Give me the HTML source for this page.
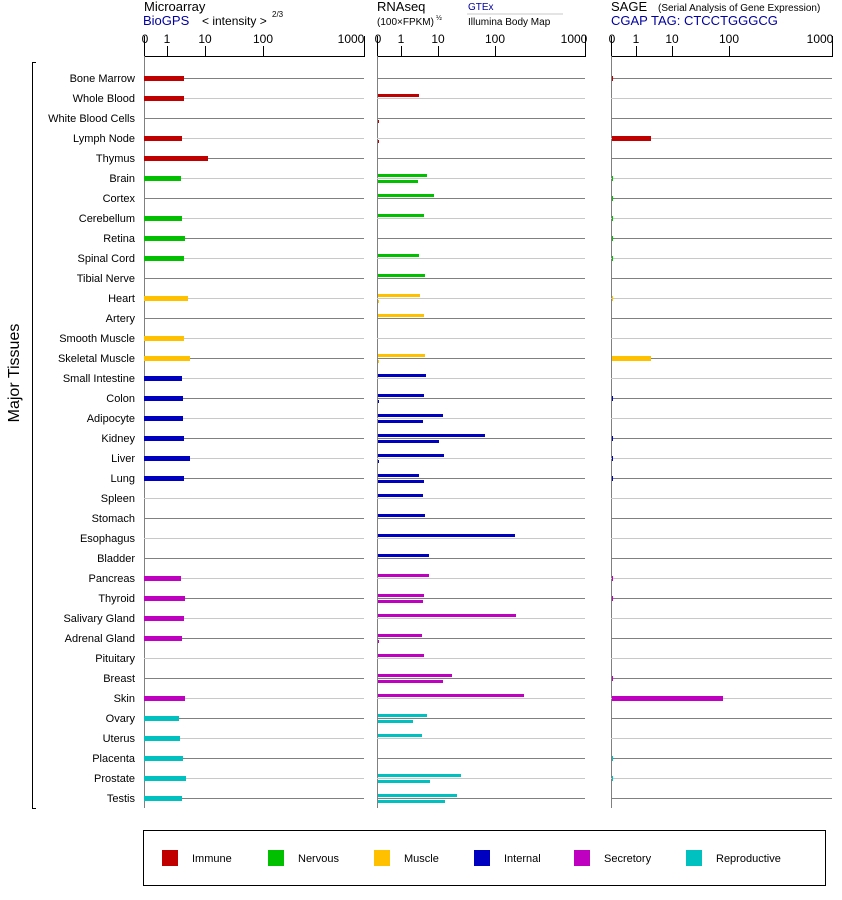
<!DOCTYPE html>
<html><head><meta charset="utf-8"><style>
html,body{margin:0;padding:0;background:#fff;}
svg{display:block;font-family:"Liberation Sans",sans-serif;}
</style></head><body>
<svg id="s" width="842" height="900" viewBox="0 0 842 900" xmlns="http://www.w3.org/2000/svg">
<g font-size="13" fill="#000">
<text x="144" y="11">Microarray</text>
<text x="143" y="25" fill="#0000a0">BioGPS</text>
<text x="202" y="25" font-size="12">&lt; intensity &gt;</text>
<text x="272" y="17" font-size="8">2/3</text>
<text x="377" y="11">RNAseq</text>
<text x="377" y="25" font-size="10">(100×FPKM)</text>
<text x="436" y="20" font-size="7">½</text>
<text x="468" y="10" font-size="10" fill="#0000a0">GTEx</text>
<line x1="467" y1="14" x2="563" y2="14" stroke="#c8c8c8"/>
<text x="468" y="25" font-size="10">Illumina Body Map</text>
<text x="611" y="11">SAGE</text>
<text x="658" y="11" font-size="10">(Serial Analysis of Gene Expression)</text>
<text x="611" y="25" fill="#0000a0">CGAP TAG: CTCCTGGGCG</text>
</g>
<g font-size="12" text-anchor="middle">
<text x="145" y="43">0</text><text x="167" y="43">1</text><text x="205" y="43">10</text><text x="263" y="43">100</text><text x="351" y="43">1000</text>
<text x="378" y="43">0</text><text x="401" y="43">1</text><text x="438" y="43">10</text><text x="495" y="43">100</text><text x="574" y="43">1000</text>
<text x="612" y="43">0</text><text x="636" y="43">1</text><text x="672" y="43">10</text><text x="729" y="43">100</text><text x="820" y="43">1000</text>
</g>
<g stroke="#000" stroke-width="1" fill="none">
<path d="M144.5 36V56.5H364.5V36M167.5 46V56M205.5 46V56M263.5 46V56"/>
<path d="M377.5 36V56.5H585.5V36M401.5 46V56M438.5 46V56M495.5 46V56"/>
<path d="M611.5 36V56.5H832.5V36M636.5 46V56M672.5 46V56M729.5 46V56"/>
</g>
<g stroke="#808080"><line x1="144.5" y1="56" x2="144.5" y2="808"/><line x1="377.5" y1="56" x2="377.5" y2="808"/><line x1="611.5" y1="56" x2="611.5" y2="808"/></g>
<g id="rows"></g>
<g id="bars"></g>
<path d="M36 62.5H32.5V808.5H36" stroke="#000" fill="none"/>
<text transform="translate(19,373) rotate(-90)" font-size="16" text-anchor="middle">Major Tissues</text>
<g font-size="11" text-anchor="end">
<text x="135" y="82">Bone Marrow</text><text x="135" y="102">Whole Blood</text><text x="135" y="122">White Blood Cells</text><text x="135" y="142">Lymph Node</text><text x="135" y="162">Thymus</text><text x="135" y="182">Brain</text><text x="135" y="202">Cortex</text><text x="135" y="222">Cerebellum</text><text x="135" y="242">Retina</text><text x="135" y="262">Spinal Cord</text><text x="135" y="282">Tibial Nerve</text><text x="135" y="302">Heart</text><text x="135" y="322">Artery</text><text x="135" y="342">Smooth Muscle</text><text x="135" y="362">Skeletal Muscle</text><text x="135" y="382">Small Intestine</text><text x="135" y="402">Colon</text><text x="135" y="422">Adipocyte</text><text x="135" y="442">Kidney</text><text x="135" y="462">Liver</text><text x="135" y="482">Lung</text><text x="135" y="502">Spleen</text><text x="135" y="522">Stomach</text><text x="135" y="542">Esophagus</text><text x="135" y="562">Bladder</text><text x="135" y="582">Pancreas</text><text x="135" y="602">Thyroid</text><text x="135" y="622">Salivary Gland</text><text x="135" y="642">Adrenal Gland</text><text x="135" y="662">Pituitary</text><text x="135" y="682">Breast</text><text x="135" y="702">Skin</text><text x="135" y="722">Ovary</text><text x="135" y="742">Uterus</text><text x="135" y="762">Placenta</text><text x="135" y="782">Prostate</text><text x="135" y="802">Testis</text>
</g>
<rect x="143.5" y="830.5" width="682" height="55" fill="none" stroke="#000"/>
<g font-size="11">
<rect x="162" y="850" width="16" height="16" fill="#c00000"/><text x="192" y="862">Immune</text>
<rect x="268" y="850" width="16" height="16" fill="#00c000"/><text x="298" y="862">Nervous</text>
<rect x="374" y="850" width="16" height="16" fill="#ffc000"/><text x="404" y="862">Muscle</text>
<rect x="474" y="850" width="16" height="16" fill="#0000c0"/><text x="504" y="862">Internal</text>
<rect x="574" y="850" width="16" height="16" fill="#c000c0"/><text x="604" y="862">Secretory</text>
<rect x="686" y="850" width="16" height="16" fill="#00c0c0"/><text x="716" y="862">Reproductive</text>
</g>
</svg>
<script>
var C={I:"#c00000",N:"#00c000",M:"#ffc000",T:"#0000c0",S:"#c000c0",R:"#00c0c0"};
var D=[
["I",184,0,0,613],["I",184,419,0,0],["I",0,0,379,0],["I",182,0,379,651],["I",208,0,0,0],
["N",181,427,418,613],["N",0,434,0,613],["N",182,424,0,613],["N",185,0,0,613],["N",184,419,0,613],["N",0,425,0,0],
["M",188,420,379,613],["M",0,424,0,0],["M",184,0,0,0],["M",190,425,379,651],
["T",182,426,0,0],["T",183,424,379,613],["T",183,443,423,0],["T",184,485,439,613],["T",190,444,379,613],["T",184,419,424,613],["T",0,423,0,0],["T",0,425,0,0],["T",0,515,0,0],["T",0,429,0,0],
["S",181,429,0,613],["S",185,424,423,613],["S",184,516,0,0],["S",182,422,379,0],["S",0,424,0,0],["S",0,452,443,613],["S",185,524,0,723],
["R",179,427,413,0],["R",180,422,0,0],["R",183,0,0,613],["R",186,461,430,613],["R",182,457,445,0]];
var ns="http://www.w3.org/2000/svg",rows=document.getElementById("rows"),bars=document.getElementById("bars");
function el(p,t,a){var e=document.createElementNS(ns,t);for(var k in a)e.setAttribute(k,a[k]);p.appendChild(e);}
D.forEach(function(d,i){var y=78+20*i,col=i%2?"#c8c8c8":"#808080";
[[144,364],[377,585],[611,832]].forEach(function(r){el(rows,"line",{x1:r[0],x2:r[1],y1:y+.5,y2:y+.5,stroke:col,"stroke-width":1});});
var c=C[d[0]];
if(d[1])el(bars,"rect",{x:144,y:y-2,width:d[1]-144,height:5,fill:c});
if(d[2])el(bars,"rect",{x:378,y:y-4,width:d[2]-378,height:3,fill:c});
if(d[3])el(bars,"rect",{x:378,y:y+2,width:d[3]-378,height:3,fill:c});
if(d[4])el(bars,"rect",{x:612,y:y-2,width:d[4]-612,height:5,fill:c});
});
</script>
</body></html>
